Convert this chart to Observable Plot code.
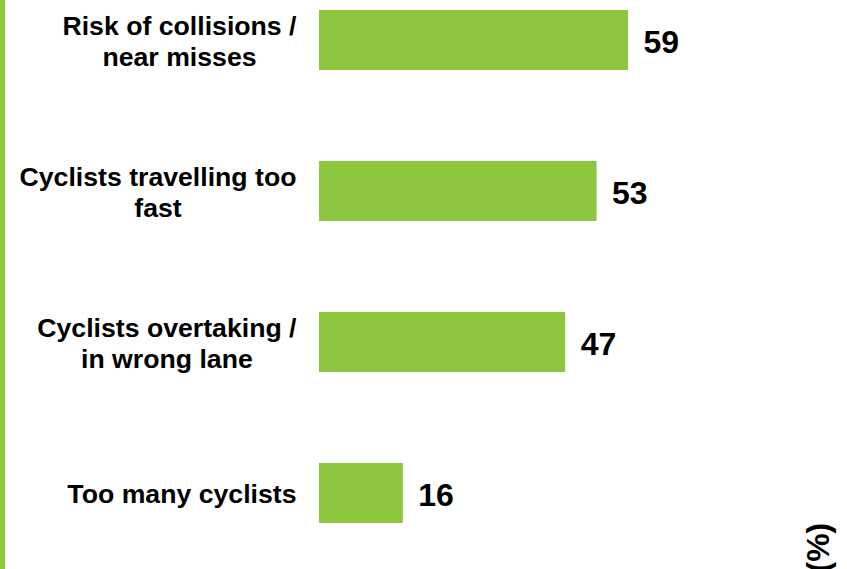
<!DOCTYPE html>
<html>
<head>
<meta charset="utf-8">
<script src="https://cdn.jsdelivr.net/npm/d3@7"></script>
<script src="https://cdn.jsdelivr.net/npm/@observablehq/plot@0.6"></script>
<style>
  html, body { margin: 0; padding: 0; background: #fff; }
  #wrap { position: relative; width: 847px; height: 569px; overflow: hidden; }
  #stripe { position: absolute; left: 0; top: 0; width: 5px; height: 569px; background: #8dc63f; }
  #chart svg { display: block; }
</style>
</head>
<body>
<div id="wrap"><div id="chart"></div><div id="stripe"></div></div>
<script>
const categories = [
  "Risk of collisions /\nnear misses",
  "Cyclists travelling too\nfast",
  "Cyclists overtaking /\nin wrong lane",
  "Too many cyclists"
];
const values = [59, 53, 47, 16];
const unitLabel = "(%)";

const data = categories.map((c, i) => ({category: c, value: values[i]}));

const labelFont = "bold 26.67px 'Liberation Sans', Arial, sans-serif";
const canvas = document.createElement("canvas");
const ctx = canvas.getContext("2d");
ctx.font = labelFont;
const widest = c => d3.max(c.split("\n"), line => ctx.measureText(line).width);

const W = 847, H = 569;
const mL = 319, mR = 4.3;
const labelRight = 296;

const labelMarks = data.map(d => Plot.text([d], {
  x: () => 0,
  y: "category",
  text: "category",
  dx: labelRight - widest(d.category) / 2 - mL,
  textAnchor: "middle",
  lineAnchor: "middle",
  lineHeight: 1.15,
  fontSize: 26.67,
  fontWeight: "bold",
  fontFamily: "'Liberation Sans', Arial, sans-serif",
  fill: "#000"
}));

const chart = Plot.plot({
  width: W,
  height: H,
  marginLeft: mL,
  marginRight: mR,
  marginTop: 0,
  marginBottom: 0,
  style: {background: "transparent"},
  x: {domain: [0, 100], axis: null},
  y: {domain: categories, range: [9, 524], paddingInner: 0.605, paddingOuter: 0, axis: null},
  marks: [
    Plot.barX(data, {x: "value", y: "category", fill: "#8dc63f"}),
    Plot.text(data, {
      x: "value", y: "category", text: d => String(d.value),
      dx: 15, dy: 2, textAnchor: "start",
      fontSize: 32, fontWeight: "bold",
      fontFamily: "'Liberation Sans', Arial, sans-serif", fill: "#000"
    }),
    ...labelMarks,
    Plot.text([unitLabel], {
      frameAnchor: "bottom-right",
      text: d => d,
      rotate: -90,
      textAnchor: "start",
      lineAnchor: "top",
      dx: -37.4, dy: 3,
      fontSize: 32, fontWeight: "bold",
      fontFamily: "'Liberation Sans', Arial, sans-serif", fill: "#000"
    })
  ]
});
document.getElementById("chart").appendChild(chart);
</script>
</body>
</html>
